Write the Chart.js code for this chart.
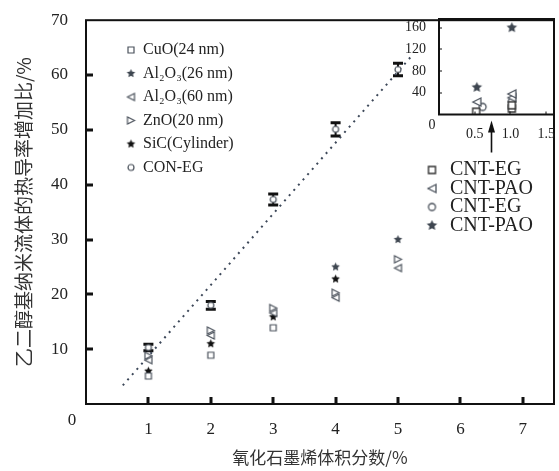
<!DOCTYPE html>
<html>
<head>
<meta charset="utf-8">
<script src="https://cdn.jsdelivr.net/npm/chart.js@4/dist/chart.umd.min.js"></script>
<style>
html, body { margin: 0; padding: 0; background: #fff; }
#wrap { position: relative; width: 559px; height: 471px; }
#main { position: absolute; left: 0; top: 0; }
#inset { position: absolute; left: 395px; top: 0; }
</style>
</head>
<body>
<div id="wrap">
  <canvas id="main" width="559" height="471"></canvas>
  <canvas id="inset" width="164" height="160"></canvas>
</div>
<script>
// main plot: increase ratio (%) vs GO volume fraction (%)
const fractions = [1, 2, 3, 4, 5];
const cuo = [5.1, 8.9, 13.9, null, null];
const al2o3_26 = [null, null, null, 25.0, 30.0];
const al2o3_60 = [8.0, 12.5, 16.6, 19.4, 24.8];
const zno = [8.8, 13.4, 17.5, 20.3, 26.4];
const sic = [6.0, 11.0, 15.9, 22.8, null];
const conEg = [10.3, 18.0, 37.3, 50.1, 61.0];
const conEgErr = [0.6, 0.7, 1.0, 1.2, 1.15];
const fitX = [0.59, 5.22];
const fitY = [3.4, 63.5];
const mainLabels = ['CuO(24 nm)', 'Al₂O₃(26 nm)', 'Al₂O₃(60 nm)', 'ZnO(20 nm)', 'SiC(Cylinder)', 'CON-EG'];

// inset (CNT data)
const insetLabels = ['CNT-EG', 'CNT-PAO', 'CNT-EG', 'CNT-PAO'];
const cntEgSqX = [0.52, 1.02, 1.02];
const cntEgSqY = [5, 11, 17];
const cntPaoTriX = [0.53, 1.02, 1.02];
const cntPaoTriY = [23, 31, 38];
const cntEgCircX = [0.61, 1.02];
const cntEgCircY = [14, 24];
const cntPaoStarX = [0.53, 1.02];
const cntPaoStarY = [50, 160];
const arrowAt = 0.73;

const ink = '#4b525c';
const serif = "'Liberation Serif', 'Times New Roman', serif";
const cjk = "'Noto Sans CJK SC', sans-serif";

function mk(kind, size, fill, stroke, lw) {
  const s = Math.ceil(size + 4);
  const c = document.createElement('canvas');
  c.width = s; c.height = s;
  const g = c.getContext('2d');
  const m = s / 2, r = size / 2;
  g.beginPath();
  if (kind === 'square') g.rect(m - r, m - r, size, size);
  else if (kind === 'circle') g.arc(m, m, r, 0, Math.PI * 2);
  else if (kind === 'triLeft') { g.moveTo(m - r, m); g.lineTo(m + r, m - r); g.lineTo(m + r, m + r); g.closePath(); }
  else if (kind === 'triRight') { g.moveTo(m + r, m); g.lineTo(m - r, m - r); g.lineTo(m - r, m + r); g.closePath(); }
  else if (kind === 'star') {
    for (let i = 0; i < 10; i++) {
      const a = -Math.PI / 2 + i * Math.PI / 5;
      const rr = i % 2 ? r * 0.48 : r;
      const px = m + rr * Math.cos(a), py = m + rr * Math.sin(a);
      if (i === 0) g.moveTo(px, py); else g.lineTo(px, py);
    }
    g.closePath();
  }
  if (fill) { g.fillStyle = fill; g.fill(); }
  if (stroke) { g.strokeStyle = stroke; g.lineWidth = lw || 1; g.stroke(); }
  return c;
}

const mainMarks = [
  mk('square', 6, '#fff', ink, 1.2),
  mk('star', 9, '#3e4650'),
  mk('triLeft', 7, '#fff', ink, 1.2),
  mk('triRight', 7, '#fff', ink, 1.2),
  mk('star', 9, '#111'),
  mk('circle', 6, '#fff', ink, 1.2)
];
const insetMarks = [
  mk('square', 7, '#fff', '#333', 1.4),
  mk('triLeft', 8, '#fff', ink, 1.3),
  mk('circle', 7, '#fff', ink, 1.3),
  mk('star', 11, '#3e4650')
];

// draws frame, inward ticks and the shared origin "0"
const framePlugin = {
  id: 'frame',
  afterDraw(chart, args, o) {
    const { ctx, chartArea: a, scales: { x, y } } = chart;
    ctx.save();
    ctx.strokeStyle = '#111';
    ctx.lineWidth = o.lw;
    ctx.strokeRect(a.left, a.top, a.right - a.left, a.bottom - a.top);
    ctx.lineWidth = o.tickW;
    ctx.beginPath();
    x.ticks.forEach(t => {
      if (t.value <= x.min || t.value >= x.max) return;
      const px = Math.round(x.getPixelForValue(t.value));
      ctx.moveTo(px, a.bottom); ctx.lineTo(px, a.bottom - o.tickLen);
    });
    y.ticks.forEach(t => {
      if (t.value <= y.min || t.value >= y.max) return;
      const py = Math.round(y.getPixelForValue(t.value));
      ctx.moveTo(a.left, py); ctx.lineTo(a.left + o.tickLen, py);
    });
    ctx.stroke();
    ctx.fillStyle = '#222';
    ctx.font = o.font;
    ctx.textAlign = 'center';
    ctx.textBaseline = 'middle';
    ctx.fillText('0', a.left + o.zeroDx, a.bottom + o.zeroDy);
    ctx.restore();
  }
};

const errorBars = {
  id: 'errorBars',
  beforeDatasetsDraw(chart) {
    const { ctx, scales: { x, y } } = chart;
    ctx.save();
    ctx.strokeStyle = '#111';
    fractions.forEach((f, i) => {
      const px = x.getPixelForValue(f);
      const hi = y.getPixelForValue(conEg[i] + conEgErr[i]);
      const lo = y.getPixelForValue(conEg[i] - conEgErr[i]);
      ctx.lineWidth = 2;
      ctx.beginPath(); ctx.moveTo(px, hi); ctx.lineTo(px, lo); ctx.stroke();
      ctx.lineWidth = 3;
      ctx.beginPath();
      ctx.moveTo(px - 5, hi); ctx.lineTo(px + 5, hi);
      ctx.moveTo(px - 5, lo); ctx.lineTo(px + 5, lo);
      ctx.stroke();
    });
    ctx.restore();
  }
};

const legends = {
  id: 'legends',
  afterDraw(chart) {
    const ctx = chart.ctx;
    ctx.save();
    ctx.fillStyle = '#222';
    ctx.textAlign = 'left';
    ctx.textBaseline = 'middle';
    ctx.font = '16px ' + serif;
    mainLabels.forEach((lab, i) => {
      const yy = 50 + i * 23.5, m = mainMarks[i];
      ctx.drawImage(m, 131 - m.width / 2, yy - m.height / 2);
      ctx.fillText(lab, 143, yy);
    });
    ctx.font = '20px ' + serif;
    insetLabels.forEach((lab, i) => {
      const yy = 170 + i * 18.5, m = insetMarks[i];
      ctx.drawImage(m, 432 - m.width / 2, yy - m.height / 2);
      ctx.fillText(lab, 450, yy);
    });
    ctx.restore();
  }
};

const mainSeries = [cuo, al2o3_26, al2o3_60, zno, sic, conEg];
const mainSets = mainSeries.map((vals, i) => ({
  label: mainLabels[i],
  data: fractions.map((f, j) => ({ x: f, y: vals[j] })).filter(p => p.y !== null),
  pointStyle: mainMarks[i],
  pointRadius: 4
}));
mainSets.push({
  label: 'fit',
  data: fitX.map((v, i) => ({ x: v, y: fitY[i] })),
  showLine: true,
  borderColor: '#3d4859',
  borderWidth: 2,
  borderDash: [2, 5],
  pointRadius: 0
});

new Chart(document.getElementById('main'), {
  type: 'scatter',
  data: { datasets: mainSets },
  options: {
    responsive: false,
    animation: false,
    devicePixelRatio: 1,
    layout: { padding: { left: 0, right: 4, top: 17, bottom: 0 } },
    plugins: {
      legend: { display: false },
      tooltip: { enabled: false },
      frame: { lw: 2, tickW: 3, tickLen: 7, font: '17px ' + serif, zeroDx: -14, zeroDy: 17 }
    },
    scales: {
      x: {
        type: 'linear', min: 0, max: 7.5,
        grid: { display: false }, border: { display: false },
        ticks: { stepSize: 1, includeBounds: false, padding: 7, color: '#222',
          font: { family: serif, size: 17 },
          callback: v => v === 0 ? '' : String(v) },
        title: { display: true, text: '氧化石墨烯体积分数/%', color: '#333',
          font: { family: cjk, size: 17 }, padding: { top: 0, bottom: 3 } },
        afterFit: s => { s.height = 67; }
      },
      y: {
        min: 0, max: 70,
        grid: { display: false }, border: { display: false },
        ticks: { stepSize: 10, padding: 10, color: '#222',
          font: { family: serif, size: 17 },
          callback: v => v === 0 ? '' : String(v) },
        title: { display: true, text: '乙二醇基纳米流体的热导率增加比/%', color: '#333',
          font: { family: cjk, size: 19 }, padding: { top: 12, bottom: 0 } },
        afterFit: s => { s.width = 86; }
      }
    }
  },
  plugins: [framePlugin, errorBars, legends]
});

const arrow = {
  id: 'arrow',
  afterDraw(chart) {
    const { ctx, chartArea: a, scales: { x } } = chart;
    const px = Math.round(x.getPixelForValue(arrowAt)) + 0.5;
    const tip = a.bottom + 6;
    ctx.save();
    ctx.strokeStyle = '#111'; ctx.fillStyle = '#111';
    ctx.lineWidth = 1.6;
    ctx.beginPath(); ctx.moveTo(px, tip + 8); ctx.lineTo(px, a.bottom + 38); ctx.stroke();
    ctx.beginPath(); ctx.moveTo(px, tip); ctx.lineTo(px - 3.5, tip + 12); ctx.lineTo(px + 3.5, tip + 12); ctx.closePath(); ctx.fill();
    ctx.restore();
  }
};

const insetXs = [cntEgSqX, cntPaoTriX, cntEgCircX, cntPaoStarX];
const insetYs = [cntEgSqY, cntPaoTriY, cntEgCircY, cntPaoStarY];

new Chart(document.getElementById('inset'), {
  type: 'scatter',
  data: {
    datasets: insetLabels.map((lab, i) => ({
      label: lab,
      data: insetXs[i].map((v, j) => ({ x: v, y: insetYs[i][j] })),
      pointStyle: insetMarks[i],
      pointRadius: 4
    }))
  },
  options: {
    responsive: false,
    animation: false,
    devicePixelRatio: 1,
    layout: { padding: { left: 0, right: 1, top: 19, bottom: 0 } },
    plugins: {
      legend: { display: false },
      tooltip: { enabled: false },
      frame: { lw: 2, tickW: 1, tickLen: 3, font: '14px ' + serif, zeroDx: -7, zeroDy: 11 }
    },
    scales: {
      x: {
        type: 'linear', min: 0, max: 1.61,
        grid: { display: false }, border: { display: false },
        ticks: { stepSize: 0.5, includeBounds: false, padding: 3, color: '#222',
          font: { family: serif, size: 14 },
          callback: v => v === 0 ? '' : v.toFixed(1) },
        afterFit: s => { s.height = 45.5; }
      },
      y: {
        min: 0, max: 176,
        grid: { display: false }, border: { display: false },
        ticks: { stepSize: 40, includeBounds: false, padding: 5, color: '#222',
          font: { family: serif, size: 14 },
          callback: v => v === 0 ? '' : String(v) },
        afterFit: s => { s.width = 44; }
      }
    }
  },
  plugins: [framePlugin, arrow]
});
</script>
</body>
</html>
